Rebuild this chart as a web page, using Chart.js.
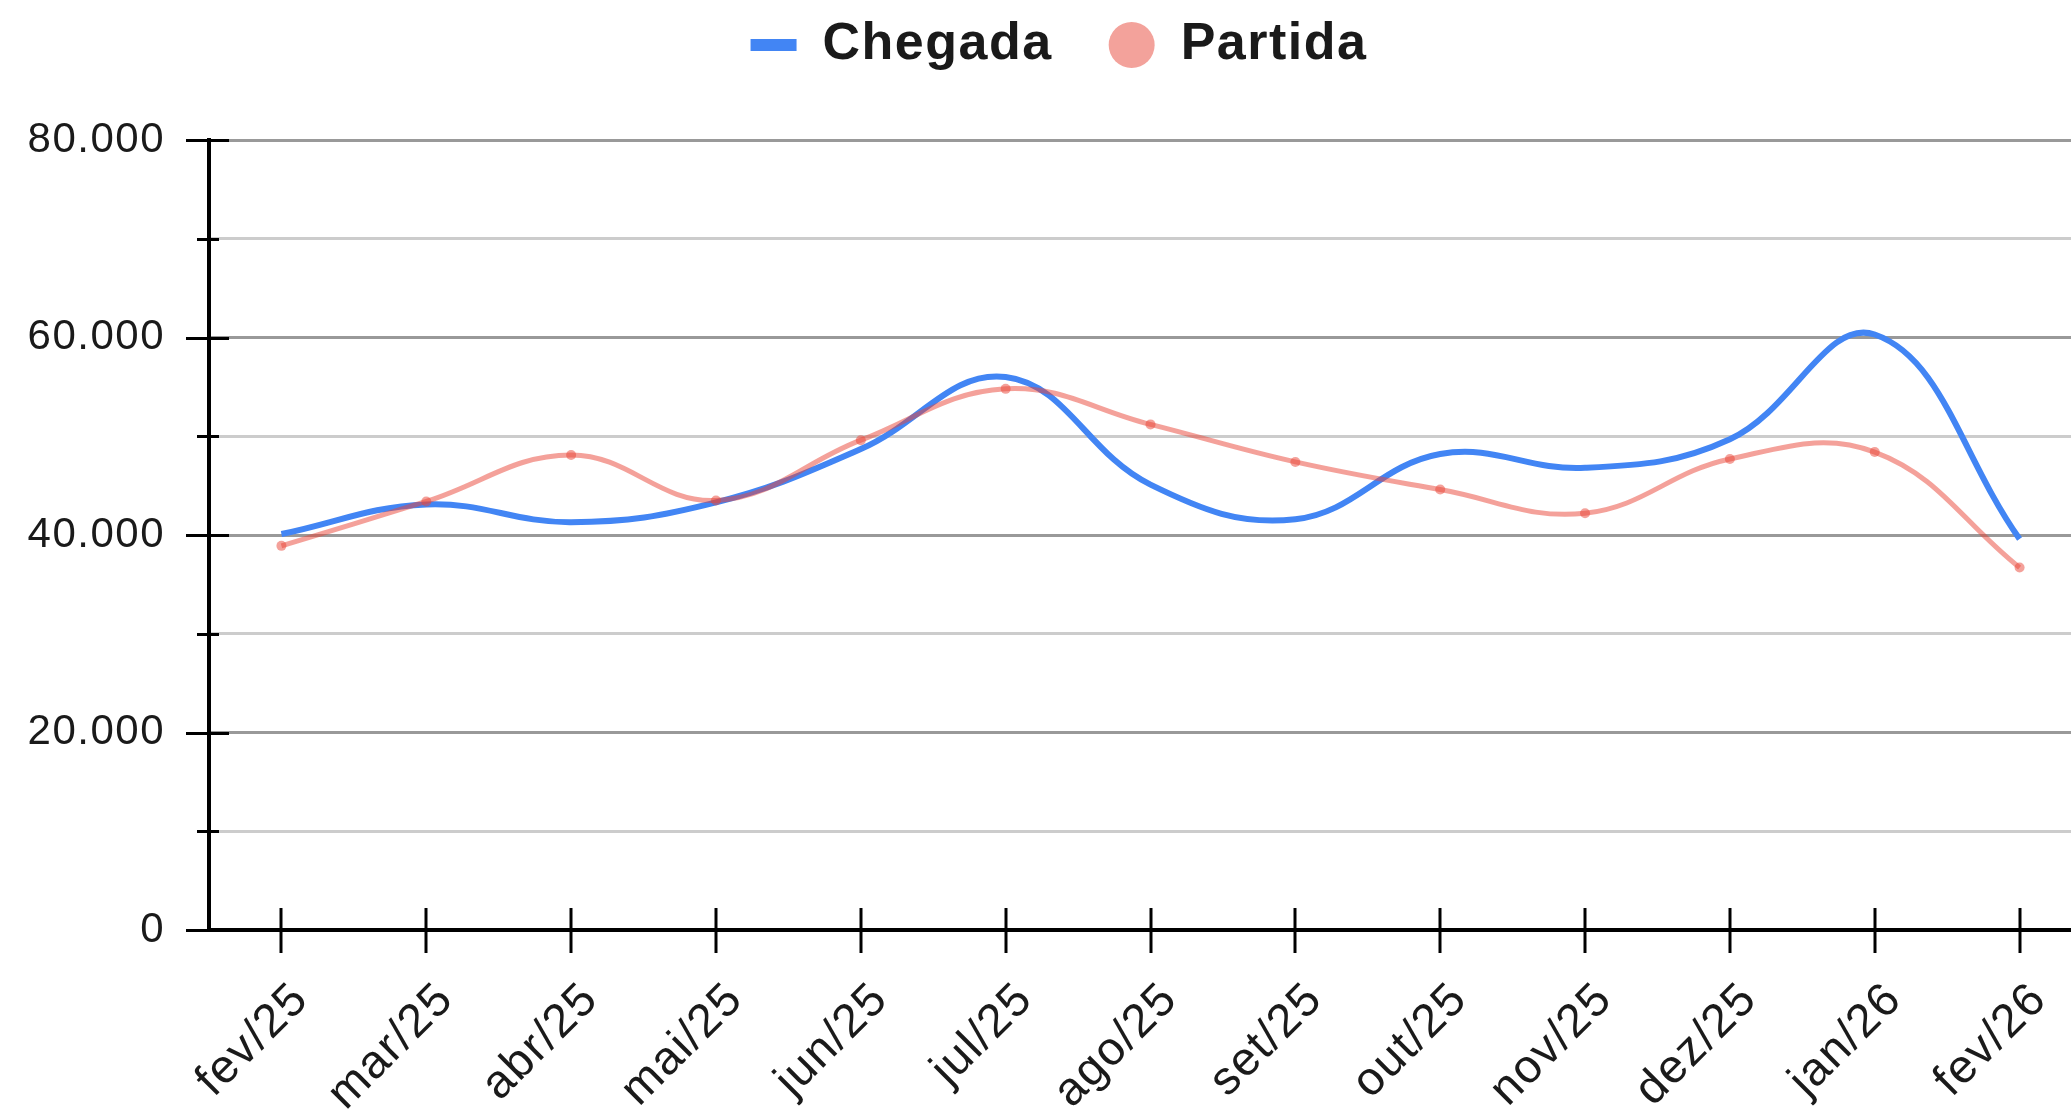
<!DOCTYPE html>
<html>
<head>
<meta charset="utf-8">
<script src="https://cdn.jsdelivr.net/npm/chart.js@4.4.1/dist/chart.umd.min.js"></script>
<style>
    html, body { margin: 0; padding: 0; background: #fff; overflow: hidden; }
    #wrap { position: relative; width: 2118px; height: 1111px; }
</style>
</head>
<body>
<div id="wrap"><canvas id="lineChart"></canvas></div>
<script>
const months = ['fev/25', 'mar/25', 'abr/25', 'mai/25', 'jun/25', 'jul/25', 'ago/25',
                'set/25', 'out/25', 'nov/25', 'dez/25', 'jan/26', 'fev/26'];
const chegada = [40100, 43100, 41300, 43300, 48700, 56000, 45100, 41600, 48200, 46800, 49700, 60300, 39600];
const partida = [38900, 43400, 48100, 43500, 49600, 54800, 51200, 47400, 44600, 42200, 47700, 48400, 36700];
const yMin = 0;
const yMax = 80000;
const yStep = 10000;
const yLabelStep = 20000;

const BLUE = '#4285f4';
const RED = 'rgba(234, 67, 53, 0.5)';
const FONT = "'Liberation Sans', Arial, sans-serif";
const INK = '#1a1a1a';

const fmt = (v) => String(v).replace(/\B(?=(\d{3})+(?!\d))/g, '.');

// the original text is a bit spaced out
const spacing = {
    id: 'spacing',
    beforeLayout(chart) { chart.ctx.letterSpacing = '1.5px'; },
    beforeDraw(chart) { chart.ctx.letterSpacing = '1.5px'; }
};

// legend keeps its own height so the plot starts where the original does
const legendSpace = {
    id: 'legendSpace',
    beforeInit(chart) {
        const fit = chart.legend.fit;
        chart.legend.fit = function() {
            fit.call(this);
            this.height = 177;
        };
    }
};

// black tick marks crossing both axes
const tickMarks = {
    id: 'tickMarks',
    beforeDatasetsDraw(chart) {
        const { ctx, chartArea, scales: { x, y } } = chart;
        ctx.save();
        ctx.strokeStyle = '#000';
        ctx.lineWidth = 3;
        y.ticks.forEach(t => {
            const py = Math.round(y.getPixelForValue(t.value)) + 0.5;
            const major = t.value % yLabelStep === 0;
            ctx.beginPath();
            ctx.moveTo(chartArea.left - (major ? 23 : 12), py);
            ctx.lineTo(chartArea.left + (major ? 20 : 10), py);
            ctx.stroke();
        });
        x.ticks.forEach((t, i) => {
            const px = Math.round(x.getPixelForTick(i));
            ctx.beginPath();
            ctx.moveTo(px, chartArea.bottom - 22);
            ctx.lineTo(px, chartArea.bottom + 23);
            ctx.stroke();
        });
        ctx.restore();
    }
};

new Chart(document.getElementById('lineChart'), {
    type: 'line',
    data: {
        labels: months,
        datasets: [{
            label: 'Chegada',
            data: chegada,
            borderColor: BLUE,
            backgroundColor: BLUE,
            borderWidth: 6,
            pointRadius: 0,
            tension: 0.4,
            order: 1
        }, {
            label: 'Partida',
            data: partida,
            borderColor: RED,
            backgroundColor: RED,
            borderWidth: 5,
            pointRadius: 5,
            pointBorderWidth: 0,
            pointBackgroundColor: RED,
            tension: 0.4,
            order: 0
        }]
    },
    options: {
        responsive: true,
        maintainAspectRatio: false,
        animation: false,
        layout: { padding: { top: -37, right: 0, left: 0, bottom: 0 } },
        plugins: {
            tooltip: { enabled: false },
            legend: {
                position: 'top',
                labels: {
                    usePointStyle: true,
                    pointStyleWidth: 46,
                    boxHeight: 32.5,
                    padding: 56,
                    color: INK,
                    font: { family: FONT, size: 52, weight: 'bold' },
                    generateLabels: () => [{
                        text: 'Chegada',
                        pointStyle: 'line',
                        strokeStyle: BLUE,
                        fillStyle: BLUE,
                        lineWidth: 12,
                        fontColor: INK,
                        datasetIndex: 0
                    }, {
                        text: 'Partida',
                        pointStyle: 'circle',
                        strokeStyle: '#f3a29b',
                        fillStyle: '#f3a29b',
                        lineWidth: 0,
                        fontColor: INK,
                        datasetIndex: 1
                    }]
                }
            }
        },
        scales: {
            x: {
                offset: true,
                afterFit: (scale) => { scale.height = 181; scale.paddingRight = 26; },
                grid: { display: false, drawTicks: false },
                border: { display: true, color: '#000', width: 4 },
                ticks: {
                    autoSkip: false,
                    minRotation: 45,
                    maxRotation: 45,
                    padding: 42,
                    labelOffset: 20,
                    color: INK,
                    font: { family: FONT, size: 47 }
                }
            },
            y: {
                min: yMin,
                max: yMax,
                afterFit: (scale) => { scale.width = 209; },
                grid: {
                    drawTicks: false,
                    lineWidth: 3,
                    color: (c) => (c.tick && c.tick.value % yLabelStep === 0) ? '#999' : '#ccc'
                },
                border: { display: true, color: '#000', width: 4 },
                ticks: {
                    stepSize: yStep,
                    padding: 44,
                    color: INK,
                    font: { family: FONT, size: 42 },
                    callback: (v) => v % yLabelStep === 0 ? fmt(v) : ''
                }
            }
        }
    },
    plugins: [spacing, legendSpace, tickMarks]
});
</script>
</body>
</html>
